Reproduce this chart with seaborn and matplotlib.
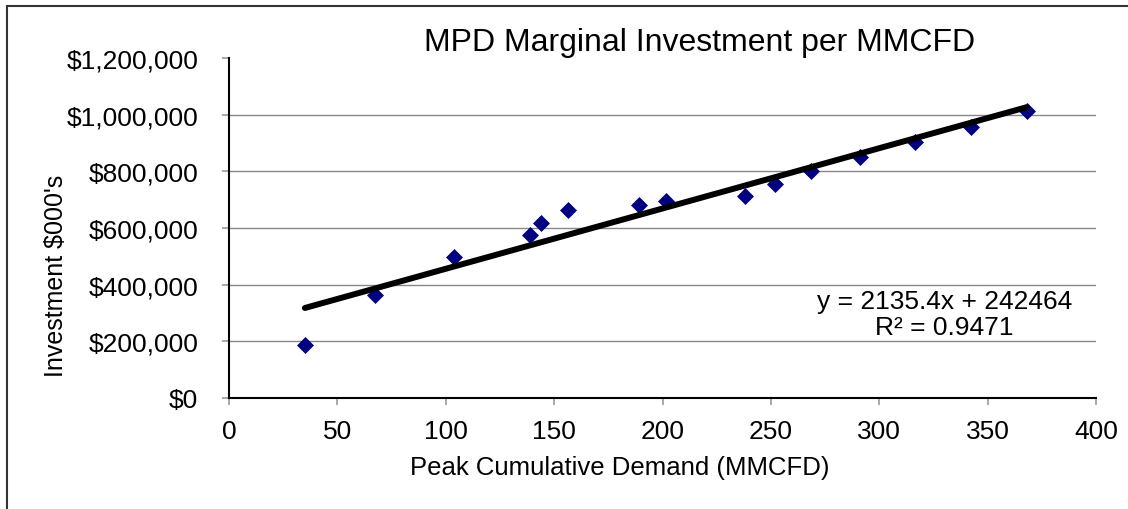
import numpy as np
import matplotlib
matplotlib.use("Agg")
import matplotlib.pyplot as plt
import matplotlib.ticker as mticker
from matplotlib.patches import Rectangle
import seaborn as sns
import pandas as pd

# values
peak_demand = [35, 67.5, 104, 139, 144, 156.5, 189, 201.5, 238, 252, 268.5, 291, 316.5, 342.5, 368]
investment = [188000, 362000, 499000, 575000, 618000, 665000, 682000, 694000,
              714000, 755000, 802000, 849000, 902000, 955000, 1013000]
x_ticks = [0, 50, 100, 150, 200, 250, 300, 350, 400]
y_ticks = [0, 200000, 400000, 600000, 800000, 1000000, 1200000]
title = "MPD Marginal Investment per MMCFD"
x_label = "Peak Cumulative Demand (MMCFD)"
y_label = "Investment $000's"
trend_text = "y = 2135.4x + 242464\nR² = 0.9471"

df = pd.DataFrame({"demand": peak_demand, "investment": investment})

sns.set_theme(style="white")
plt.rcParams['font.family'] = ['Liberation Sans', 'DejaVu Sans']

fig = plt.figure(figsize=(11.28, 5.1), dpi=100)
ax = fig.add_axes([229 / 1128, 111 / 510, 867 / 1128, 340 / 510])

# chart area border (cropped at right/bottom in the reference)
fig.patches.append(Rectangle((7 / 1128, -0.1), 1.2, (503 / 510) + 0.1, transform=fig.transFigure,
                             fill=False, edgecolor="#333333", lw=1.5, zorder=0))

for yv in y_ticks[1:-1]:
    ax.axhline(yv, color="#888888", lw=1, zorder=0)

sns.regplot(data=df, x="demand", y="investment", scatter=False, ci=None, ax=ax,
            line_kws={"color": "black", "lw": 4.3, "solid_capstyle": "round", "zorder": 3})
sns.scatterplot(data=df, x="demand", y="investment", marker="D", s=75, color="#000080",
                edgecolor="#000080", linewidth=0, ax=ax, zorder=2)

ax.set_xlim(0, 400)
ax.set_ylim(0, 1200000)
ax.set_xticks(x_ticks)
ax.set_yticks(y_ticks)
ax.yaxis.set_major_formatter(mticker.FuncFormatter(lambda v, p: "${:,.0f}".format(v)))
ax.tick_params(axis="both", which="major", labelsize=19, length=5, width=1.2,
               color="#999999", labelcolor="black", direction="out")
ax.tick_params(axis="y", pad=17)
ax.tick_params(axis="x", pad=10)
ax.xaxis.set_ticks_position("bottom")
ax.yaxis.set_ticks_position("left")

for side in ["top", "right"]:
    ax.spines[side].set_visible(False)
for side in ["left", "bottom"]:
    ax.spines[side].set_color("black")
    ax.spines[side].set_linewidth(1.5)

ax.set_xlabel(x_label, fontsize=18.5, color="black")
ax.set_ylabel(y_label, fontsize=18, color="black")
ax.xaxis.set_label_coords((620 - 229) / 867, (399 - 456) / 340)
ax.yaxis.set_label_coords((68 - 229) / 867, (399 - 276) / 340)

ax.text((700 - 229) / 867, (399 - 43) / 340, title, transform=ax.transAxes,
        ha="center", va="center", fontsize=23, color="black")
ax.text(330, 297000, trend_text, ha="center", va="center", multialignment="center",
        fontsize=19, color="black", linespacing=1.12)

fig.savefig("out.png", dpi=100)
